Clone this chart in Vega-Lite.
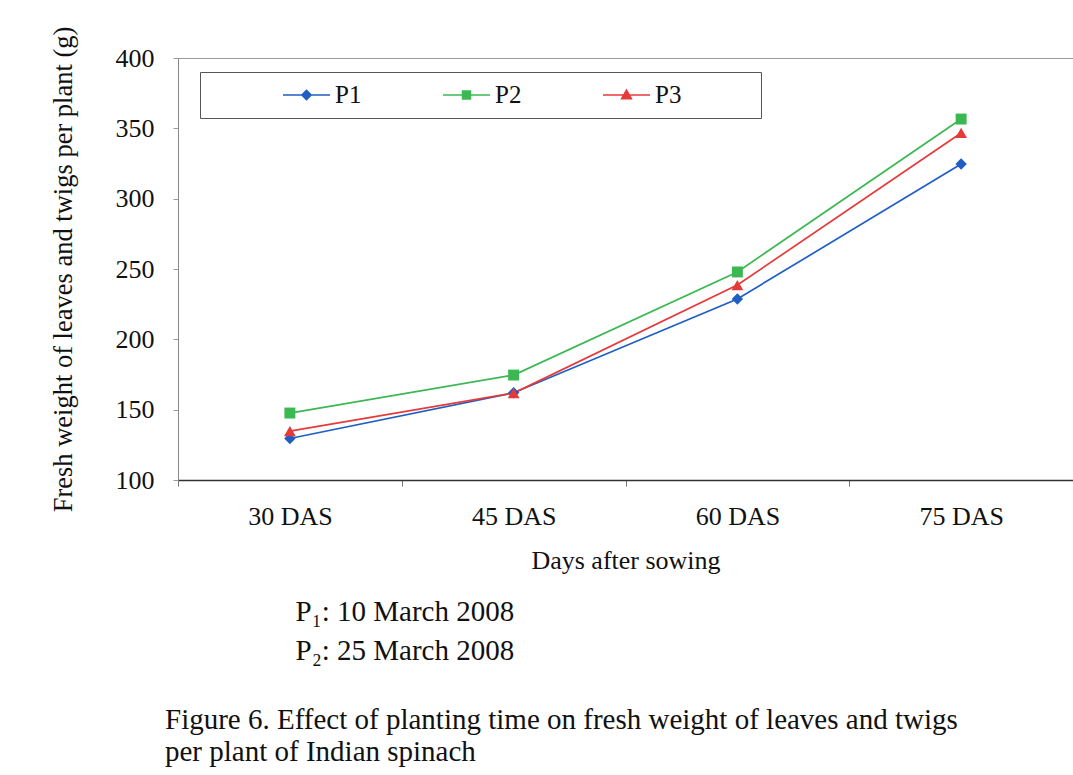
{
  "$schema": "https://vega.github.io/schema/vega-lite/v6.json",
  "width": 895,
  "height": 422,
  "autosize": {"type": "none"},
  "padding": {"left": 178, "top": 58, "right": 0, "bottom": 295},
  "background": "white",
  "config": {
    "font": "Liberation Serif",
    "view": {"stroke": "#9a9a9a", "strokeWidth": 1},
    "axis": {"grid": false, "labelFont": "Liberation Serif", "titleFont": "Liberation Serif", "labelColor": "#111", "titleColor": "#111", "titleFontWeight": "normal"}
  },
  "title": {
    "text": ["\u200b\u00a0\u00a0\u00a0\u00a0\u00a0\u00a0\u00a0\u00a0\u00a0\u00a0\u00a0\u00a0\u00a0\u00a0\u00a0\u00a0\u00a0\u00a0P₁: 10 March 2008", "\u200b\u00a0\u00a0\u00a0\u00a0\u00a0\u00a0\u00a0\u00a0\u00a0\u00a0\u00a0\u00a0\u00a0\u00a0\u00a0\u00a0\u00a0\u00a0P₂: 25 March 2008"],
    "subtitle": ["Figure 6. Effect of planting time on fresh weight of leaves and twigs", "per plant of Indian spinach"],
    "orient": "bottom",
    "anchor": "start",
    "frame": "group",
    "dx": -13,
    "offset": 25,
    "font": "Liberation Serif",
    "fontSize": 29,
    "fontWeight": "normal",
    "lineHeight": 39,
    "color": "#111",
    "subtitleFont": "Liberation Serif",
    "subtitleFontSize": 29,
    "subtitleColor": "#111",
    "subtitleLineHeight": 32,
    "subtitlePadding": 40
  },
  "data": {
    "values": [
      {"day": "30 DAS", "series": "P1", "weight": 129.5},
      {"day": "45 DAS", "series": "P1", "weight": 162},
      {"day": "60 DAS", "series": "P1", "weight": 228.7},
      {"day": "75 DAS", "series": "P1", "weight": 324.6},
      {"day": "30 DAS", "series": "P2", "weight": 147.6},
      {"day": "45 DAS", "series": "P2", "weight": 174.6},
      {"day": "60 DAS", "series": "P2", "weight": 247.9},
      {"day": "75 DAS", "series": "P2", "weight": 356.6},
      {"day": "30 DAS", "series": "P3", "weight": 134.8},
      {"day": "45 DAS", "series": "P3", "weight": 161.8},
      {"day": "60 DAS", "series": "P3", "weight": 238.6},
      {"day": "75 DAS", "series": "P3", "weight": 346.7}
    ]
  },
  "encoding": {
    "x": {
      "field": "day",
      "type": "ordinal",
      "sort": ["30 DAS", "45 DAS", "60 DAS", "75 DAS"],
      "bandPosition": 0.5,
      "scale": {"type": "band", "paddingInner": 0, "paddingOuter": 0},
      "axis": {
        "title": "Days after sowing",
        "labelAngle": 0,
        "labelFontSize": 26,
        "titleFontSize": 26,
        "tickBand": "extent",
        "tickSize": 6,
        "tickColor": "#777",
        "domainColor": "#333",
        "domainWidth": 1.5,
        "labelPadding": 17,
        "titlePadding": 18
      }
    },
    "y": {
      "field": "weight",
      "type": "quantitative",
      "scale": {"domain": [100, 400], "nice": false, "zero": false},
      "axis": {
        "title": "Fresh weight of leaves and twigs per plant (g)",
        "values": [100, 150, 200, 250, 300, 350, 400],
        "labelFontSize": 26,
        "titleFontSize": 26.5,
        "tickSize": 5,
        "tickColor": "#999",
        "domainColor": "#888",
        "labelPadding": 19,
        "titlePadding": 38
      }
    }
  },
  "resolve": {"legend": {"color": "independent", "shape": "independent"}},
  "layer": [
    {
      "mark": {"type": "line", "strokeWidth": 1.7},
      "encoding": {
        "color": {
          "field": "series",
          "type": "nominal",
          "scale": {"domain": ["P1", "P2", "P3"], "range": ["#1f5fc4", "#3cb853", "#e63a3a"]},
          "legend": null
        }
      }
    },
    {
      "transform": [{"filter": "datum.series == 'P1'"}],
      "mark": {"type": "point", "shape": "diamond", "filled": true, "size": 130, "opacity": 1},
      "encoding": {"color": {"field": "series", "type": "nominal", "legend": null}}
    },
    {
      "transform": [{"filter": "datum.series == 'P2'"}],
      "mark": {"type": "point", "shape": "square", "filled": true, "size": 120, "opacity": 1},
      "encoding": {"color": {"field": "series", "type": "nominal", "legend": null}}
    },
    {
      "transform": [{"filter": "datum.series == 'P3'"}],
      "mark": {"type": "point", "shape": "triangle-up", "filled": true, "size": 140, "opacity": 1},
      "encoding": {"color": {"field": "series", "type": "nominal", "legend": null}}
    },
    {
      "mark": {"type": "point", "filled": true, "opacity": 0},
      "encoding": {
        "color": {
          "field": "series",
          "type": "nominal",
          "legend": {
            "orient": "none",
            "legendX": 22,
            "legendY": 14,
            "direction": "horizontal",
            "title": "\u00a0",
            "titleOrient": "left",
            "titleFontSize": 4,
            "titlePadding": 78,
            "padding": 4,
            "clipHeight": 38,
            "strokeColor": "#555",
            "fillColor": "white",
            "symbolSize": 2209,
            "symbolStrokeWidth": 1.5,
            "symbolOpacity": 1,
            "labelFont": "Liberation Serif",
            "labelFontSize": 25,
            "labelColor": "#111",
            "labelOffset": 4,
            "columnPadding": 80,
            "labelExpr": "datum.label == 'P3' ? 'P3\u00a0\u00a0\u00a0\u00a0\u00a0\u00a0\u00a0\u00a0\u00a0\u00a0\u00a0\u00a0\u200b' : datum.label",
            "encode": {"symbols": {"update": {"stroke": {"scale": "color", "field": "value"}}}}
          }
        },
        "shape": {
          "field": "series",
          "type": "nominal",
          "scale": {
            "domain": ["P1", "P2", "P3"],
            "range": [
              "M-1,0H1M0,-0.2L0.2,0L0,0.2L-0.2,0Z",
              "M-1,0H1M-0.17,-0.17H0.17V0.17H-0.17Z",
              "M-1,0H1M0,-0.21L0.21,0.16H-0.21Z"
            ]
          }
        }
      }
    }
  ]
}
